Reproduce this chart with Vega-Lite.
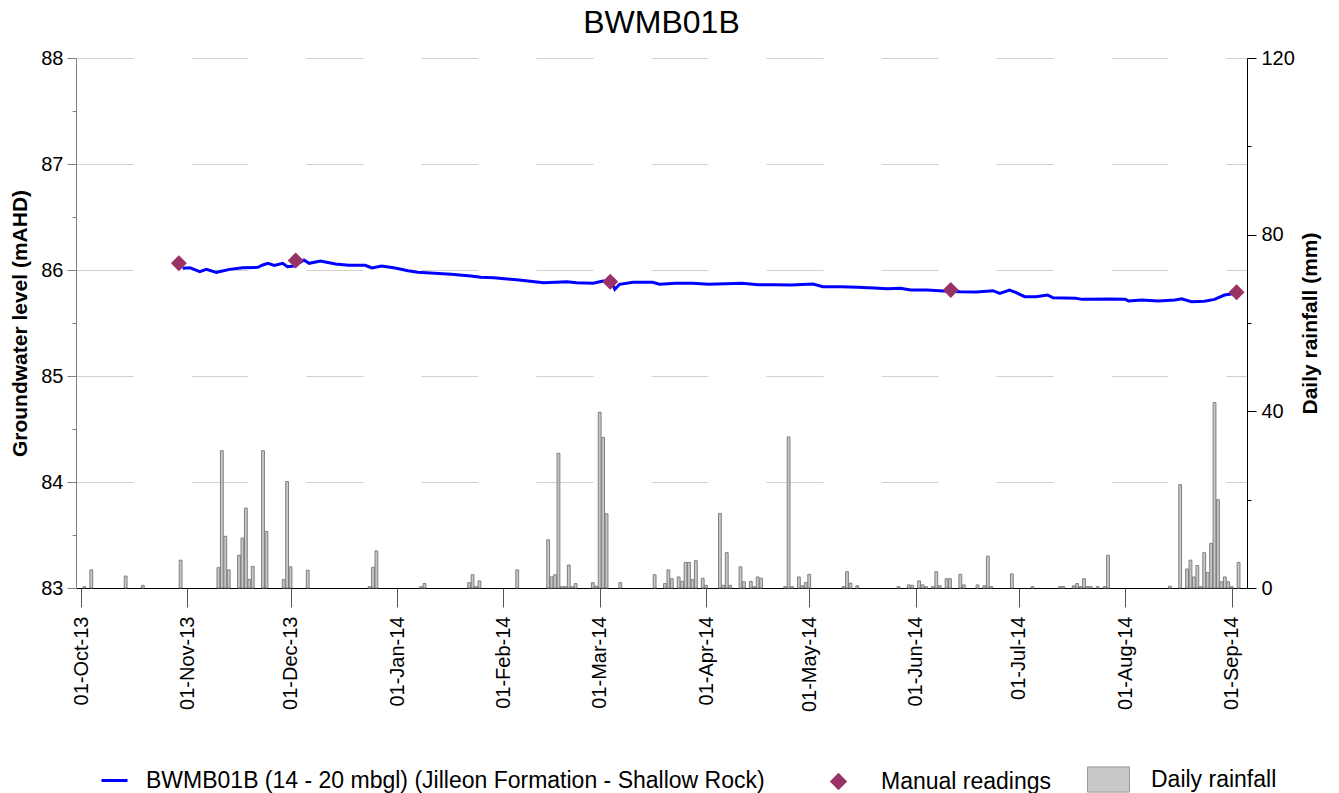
{
  "$schema": "https://vega.github.io/schema/vega-lite/v6.json",
  "width": 1171,
  "height": 530,
  "autosize": {"type": "none"},
  "padding": {"left": 76, "top": 58, "right": 92, "bottom": 205},
  "background": "white",
  "title": {"text": "BWMB01B", "fontSize": 32, "font": "Liberation Sans", "fontWeight": "normal", "anchor": "middle", "baseline": "alphabetic", "offset": -17, "color": "black"},
  "datasets": {
    "rain": [
      {"date": "2013-10-02", "rain": 0.3}, {"date": "2013-10-04", "rain": 4.1}, {"date": "2013-10-14", "rain": 2.7}, {"date": "2013-10-19", "rain": 0.6},
      {"date": "2013-10-30", "rain": 6.3}, {"date": "2013-11-10", "rain": 4.6}, {"date": "2013-11-11", "rain": 31.1}, {"date": "2013-11-12", "rain": 11.7},
      {"date": "2013-11-13", "rain": 4.1}, {"date": "2013-11-16", "rain": 7.4}, {"date": "2013-11-17", "rain": 11.3}, {"date": "2013-11-18", "rain": 18.1},
      {"date": "2013-11-19", "rain": 1.9}, {"date": "2013-11-20", "rain": 4.9}, {"date": "2013-11-23", "rain": 31.1}, {"date": "2013-11-24", "rain": 12.8},
      {"date": "2013-11-29", "rain": 1.9}, {"date": "2013-11-30", "rain": 24.1}, {"date": "2013-12-01", "rain": 4.8}, {"date": "2013-12-06", "rain": 4.0},
      {"date": "2013-12-24", "rain": 0.3}, {"date": "2013-12-25", "rain": 4.7}, {"date": "2013-12-26", "rain": 8.4},
      {"date": "2014-01-08", "rain": 0.3}, {"date": "2014-01-09", "rain": 1.0}, {"date": "2014-01-22", "rain": 1.2}, {"date": "2014-01-23", "rain": 3.0},
      {"date": "2014-01-24", "rain": 0.3}, {"date": "2014-01-25", "rain": 1.6}, {"date": "2014-02-05", "rain": 4.1}, {"date": "2014-02-14", "rain": 10.9},
      {"date": "2014-02-15", "rain": 2.5}, {"date": "2014-02-16", "rain": 3.0}, {"date": "2014-02-17", "rain": 30.5}, {"date": "2014-02-18", "rain": 0.3},
      {"date": "2014-02-19", "rain": 0.3}, {"date": "2014-02-20", "rain": 5.2}, {"date": "2014-02-21", "rain": 0.3}, {"date": "2014-02-22", "rain": 1.0},
      {"date": "2014-02-27", "rain": 1.2}, {"date": "2014-02-28", "rain": 0.4}, {"date": "2014-03-01", "rain": 39.8}, {"date": "2014-03-02", "rain": 34.1},
      {"date": "2014-03-03", "rain": 16.8}, {"date": "2014-03-07", "rain": 1.2}, {"date": "2014-03-17", "rain": 3.0}, {"date": "2014-03-20", "rain": 1.0},
      {"date": "2014-03-21", "rain": 4.1}, {"date": "2014-03-22", "rain": 2.1}, {"date": "2014-03-24", "rain": 2.5}, {"date": "2014-03-25", "rain": 1.5},
      {"date": "2014-03-26", "rain": 5.8}, {"date": "2014-03-27", "rain": 5.8}, {"date": "2014-03-28", "rain": 1.9}, {"date": "2014-03-29", "rain": 6.2},
      {"date": "2014-03-31", "rain": 2.2}, {"date": "2014-04-01", "rain": 0.6}, {"date": "2014-04-05", "rain": 16.9}, {"date": "2014-04-06", "rain": 0.6},
      {"date": "2014-04-07", "rain": 8.0}, {"date": "2014-04-08", "rain": 0.6}, {"date": "2014-04-11", "rain": 4.8}, {"date": "2014-04-12", "rain": 1.4},
      {"date": "2014-04-14", "rain": 1.5}, {"date": "2014-04-15", "rain": 0.3}, {"date": "2014-04-16", "rain": 2.5}, {"date": "2014-04-17", "rain": 2.2},
      {"date": "2014-04-24", "rain": 0.3}, {"date": "2014-04-25", "rain": 34.2}, {"date": "2014-04-26", "rain": 0.3}, {"date": "2014-04-28", "rain": 2.5},
      {"date": "2014-04-29", "rain": 0.5}, {"date": "2014-04-30", "rain": 1.2}, {"date": "2014-05-01", "rain": 3.1}, {"date": "2014-05-11", "rain": 0.3},
      {"date": "2014-05-12", "rain": 3.7}, {"date": "2014-05-13", "rain": 1.1}, {"date": "2014-05-15", "rain": 0.5}, {"date": "2014-05-27", "rain": 0.3},
      {"date": "2014-05-30", "rain": 0.7}, {"date": "2014-05-31", "rain": 0.6}, {"date": "2014-06-02", "rain": 1.6}, {"date": "2014-06-03", "rain": 0.7},
      {"date": "2014-06-04", "rain": 0.3}, {"date": "2014-06-06", "rain": 0.3}, {"date": "2014-06-07", "rain": 3.7}, {"date": "2014-06-08", "rain": 0.5},
      {"date": "2014-06-10", "rain": 2.1}, {"date": "2014-06-11", "rain": 2.1}, {"date": "2014-06-14", "rain": 3.1}, {"date": "2014-06-15", "rain": 0.7},
      {"date": "2014-06-19", "rain": 0.7}, {"date": "2014-06-21", "rain": 0.5}, {"date": "2014-06-22", "rain": 7.2}, {"date": "2014-06-23", "rain": 0.3},
      {"date": "2014-06-29", "rain": 3.2}, {"date": "2014-07-05", "rain": 0.3}, {"date": "2014-07-13", "rain": 0.3}, {"date": "2014-07-14", "rain": 0.3},
      {"date": "2014-07-17", "rain": 0.5}, {"date": "2014-07-18", "rain": 1.0}, {"date": "2014-07-19", "rain": 0.3}, {"date": "2014-07-20", "rain": 2.1},
      {"date": "2014-07-21", "rain": 0.3}, {"date": "2014-07-22", "rain": 0.3}, {"date": "2014-07-24", "rain": 0.3}, {"date": "2014-07-26", "rain": 0.3},
      {"date": "2014-07-27", "rain": 7.4}, {"date": "2014-08-14", "rain": 0.4}, {"date": "2014-08-17", "rain": 23.4}, {"date": "2014-08-19", "rain": 4.3},
      {"date": "2014-08-20", "rain": 6.3}, {"date": "2014-08-21", "rain": 2.5}, {"date": "2014-08-22", "rain": 5.1}, {"date": "2014-08-23", "rain": 0.3},
      {"date": "2014-08-24", "rain": 8.0}, {"date": "2014-08-25", "rain": 3.5}, {"date": "2014-08-26", "rain": 10.1}, {"date": "2014-08-27", "rain": 42.0},
      {"date": "2014-08-28", "rain": 20.0}, {"date": "2014-08-29", "rain": 1.4}, {"date": "2014-08-30", "rain": 2.5}, {"date": "2014-08-31", "rain": 1.4},
      {"date": "2014-09-01", "rain": 0.3}, {"date": "2014-09-03", "rain": 5.8}
    ],
    "gw": [
      {"date": "2013-10-30T14:00:00Z", "level": 86.016}, {"date": "2013-11-01T17:00:00Z", "level": 86.022}, {"date": "2013-11-04T14:00:00Z", "level": 85.984},
      {"date": "2013-11-06T12:00:00Z", "level": 86.006}, {"date": "2013-11-09T10:00:00Z", "level": 85.978}, {"date": "2013-11-13T07:00:00Z", "level": 86.006},
      {"date": "2013-11-17T02:00:00Z", "level": 86.022}, {"date": "2013-11-21T12:00:00Z", "level": 86.025}, {"date": "2013-11-22T22:00:00Z", "level": 86.047},
      {"date": "2013-11-24T10:00:00Z", "level": 86.063}, {"date": "2013-11-26T07:00:00Z", "level": 86.044}, {"date": "2013-11-28T17:00:00Z", "level": 86.063},
      {"date": "2013-11-30T02:00:00Z", "level": 86.031}, {"date": "2013-12-02T00:00:00Z", "level": 86.038}, {"date": "2013-12-04T22:00:00Z", "level": 86.095},
      {"date": "2013-12-06T10:00:00Z", "level": 86.063}, {"date": "2013-12-09T17:00:00Z", "level": 86.085}, {"date": "2013-12-14T02:00:00Z", "level": 86.057},
      {"date": "2013-12-17T22:00:00Z", "level": 86.044}, {"date": "2013-12-22T17:00:00Z", "level": 86.044}, {"date": "2013-12-24T17:00:00Z", "level": 86.019},
      {"date": "2013-12-27T12:00:00Z", "level": 86.038}, {"date": "2013-12-31T10:00:00Z", "level": 86.019}, {"date": "2014-01-04T05:00:00Z", "level": 85.993},
      {"date": "2014-01-07T02:00:00Z", "level": 85.978}, {"date": "2014-01-11T22:00:00Z", "level": 85.969}, {"date": "2014-01-16T19:00:00Z", "level": 85.959},
      {"date": "2014-01-22T12:00:00Z", "level": 85.943}, {"date": "2014-01-25T10:00:00Z", "level": 85.931}, {"date": "2014-01-29T05:00:00Z", "level": 85.927},
      {"date": "2014-02-02T02:00:00Z", "level": 85.915}, {"date": "2014-02-05T12:00:00Z", "level": 85.906}, {"date": "2014-02-12T17:00:00Z", "level": 85.880},
      {"date": "2014-02-19T10:00:00Z", "level": 85.890}, {"date": "2014-02-22T07:00:00Z", "level": 85.880}, {"date": "2014-02-27T02:00:00Z", "level": 85.875},
      {"date": "2014-03-02T00:00:00Z", "level": 85.896}, {"date": "2014-03-04T10:00:00Z", "level": 85.890}, {"date": "2014-03-05T10:00:00Z", "level": 85.818},
      {"date": "2014-03-06T19:00:00Z", "level": 85.865}, {"date": "2014-03-10T17:00:00Z", "level": 85.884}, {"date": "2014-03-16T10:00:00Z", "level": 85.884},
      {"date": "2014-03-18T10:00:00Z", "level": 85.865}, {"date": "2014-03-23T05:00:00Z", "level": 85.875}, {"date": "2014-03-28T00:00:00Z", "level": 85.875},
      {"date": "2014-04-01T19:00:00Z", "level": 85.865}, {"date": "2014-04-11T10:00:00Z", "level": 85.875}, {"date": "2014-04-16T05:00:00Z", "level": 85.862},
      {"date": "2014-04-21T00:00:00Z", "level": 85.862}, {"date": "2014-04-25T19:00:00Z", "level": 85.858}, {"date": "2014-05-02T02:00:00Z", "level": 85.868},
      {"date": "2014-05-05T00:00:00Z", "level": 85.843}, {"date": "2014-05-10T07:00:00Z", "level": 85.843}, {"date": "2014-05-15T02:00:00Z", "level": 85.837},
      {"date": "2014-05-19T22:00:00Z", "level": 85.830}, {"date": "2014-05-23T19:00:00Z", "level": 85.824}, {"date": "2014-05-27T14:00:00Z", "level": 85.827},
      {"date": "2014-05-30T12:00:00Z", "level": 85.811}, {"date": "2014-06-04T07:00:00Z", "level": 85.811}, {"date": "2014-06-09T02:00:00Z", "level": 85.802},
      {"date": "2014-06-13T22:00:00Z", "level": 85.795}, {"date": "2014-06-18T17:00:00Z", "level": 85.792}, {"date": "2014-06-23T12:00:00Z", "level": 85.805},
      {"date": "2014-06-25T12:00:00Z", "level": 85.780}, {"date": "2014-06-28T07:00:00Z", "level": 85.811}, {"date": "2014-06-30T07:00:00Z", "level": 85.786},
      {"date": "2014-07-02T17:00:00Z", "level": 85.748}, {"date": "2014-07-06T00:00:00Z", "level": 85.748}, {"date": "2014-07-09T10:00:00Z", "level": 85.764},
      {"date": "2014-07-10T22:00:00Z", "level": 85.739}, {"date": "2014-07-17T14:00:00Z", "level": 85.733}, {"date": "2014-07-19T12:00:00Z", "level": 85.723},
      {"date": "2014-07-27T05:00:00Z", "level": 85.726}, {"date": "2014-08-01T00:00:00Z", "level": 85.723}, {"date": "2014-08-02T00:00:00Z", "level": 85.708},
      {"date": "2014-08-05T19:00:00Z", "level": 85.717}, {"date": "2014-08-10T14:00:00Z", "level": 85.708}, {"date": "2014-08-15T12:00:00Z", "level": 85.717},
      {"date": "2014-08-17T10:00:00Z", "level": 85.729}, {"date": "2014-08-20T07:00:00Z", "level": 85.701}, {"date": "2014-08-24T02:00:00Z", "level": 85.705},
      {"date": "2014-08-27T00:00:00Z", "level": 85.723}, {"date": "2014-08-29T22:00:00Z", "level": 85.764}, {"date": "2014-08-31T19:00:00Z", "level": 85.774},
      {"date": "2014-09-02T07:00:00Z", "level": 85.786}
    ],
    "manual": [
      {"date": "2013-10-29T12:00:00Z", "level": 86.063},
      {"date": "2013-12-02T12:00:00Z", "level": 86.09},
      {"date": "2014-03-04T02:00:00Z", "level": 85.89},
      {"date": "2014-06-11T05:00:00Z", "level": 85.811},
      {"date": "2014-09-02T10:00:00Z", "level": 85.79}
    ]
  },
  "encoding": {
    "x": {
      "field": "date",
      "type": "temporal",
      "scale": {"type": "utc", "domain": [1380585600000, 1409788800000], "nice": false},
      "axis": {
        "format": "%d-%b-%y",
        "labelAngle": 270,
        "tickCount": {"interval": "month", "step": 1},
        "grid": false,
        "tickSize": 19,
        "tickColor": "#555555",
        "domainColor": "#000000",
        "labelFontSize": 20,
        "labelPadding": 9,
        "labelFlush": false,
        "labelOverlap": false,
        "labelColor": "#000000",
        "title": null
      }
    }
  },
  "layer": [
    {
      "data": {"name": "rain"},
      "mark": {"type": "bar", "size": 2.8, "stroke": "#7f7f7f", "strokeWidth": 1},
      "encoding": {
        "y": {
          "field": "rain",
          "type": "quantitative",
          "scale": {"domain": [0, 120], "nice": false},
          "axis": {
            "orient": "right",
            "values": [0, 20, 40, 60, 80, 100, 120],
            "labelExpr": "datum.value % 40 === 0 ? format(datum.value, 'd') : ''",
            "tickSize": {"condition": {"test": "datum.value % 40 === 0", "value": 9}, "value": 4},
            "grid": false,
            "domainColor": "#000000",
            "tickColor": "#000000",
            "labelFontSize": 20,
            "labelPadding": 5,
            "labelColor": "#000000",
            "labelOverlap": false,
            "title": "Daily rainfall (mm)",
            "titleAngle": 270,
            "titleFontSize": 21,
            "titleFontWeight": "bold",
            "titleColor": "#000000",
            "titlePadding": 26
          }
        },
        "fill": {
          "datum": "Daily rainfall",
          "scale": {"range": ["#c8c8c8"]},
          "legend": {
            "orient": "none", "legendX": 1011, "legendY": 700, "title": null, "padding": 0,
            "symbolType": "M-1,-0.6H1V0.6H-1Z", "symbolSize": 1764, "symbolFillColor": "#c8c8c8",
            "symbolStrokeColor": "#999999", "symbolStrokeWidth": 1, "labelOffset": 21,
            "labelFontSize": 23, "labelLimit": 1000, "labelColor": "#000000"
          }
        }
      }
    },
    {
      "data": {"name": "gw"},
      "mark": {"type": "line", "strokeWidth": 3},
      "encoding": {
        "y": {
          "field": "level",
          "type": "quantitative",
          "scale": {"domain": [83, 88], "nice": false, "zero": false},
          "axis": {
            "orient": "left",
            "values": [83, 83.5, 84, 84.5, 85, 85.5, 86, 86.5, 87, 87.5, 88],
            "labelExpr": "datum.value % 1 === 0 ? format(datum.value, 'd') : ''",
            "tickSize": {"condition": {"test": "datum.value % 1 === 0", "value": 9}, "value": 4},
            "grid": true,
            "gridDash": [57, 58],
            "gridColor": "#d0d0d0",
            "gridOpacity": {"condition": {"test": "datum.value % 1 === 0 && datum.value > 83", "value": 1}, "value": 0},
            "domainColor": "#808080",
            "tickColor": "#808080",
            "labelFontSize": 20,
            "labelPadding": 4,
            "labelColor": "#000000",
            "labelOverlap": false,
            "title": "Groundwater level (mAHD)",
            "titleFontSize": 21,
            "titleFontWeight": "bold",
            "titleColor": "#000000",
            "titlePadding": 10
          }
        },
        "stroke": {
          "datum": "BWMB01B (14 - 20 mbgl) (Jilleon Formation - Shallow Rock)",
          "scale": {"range": ["#0000ff"]},
          "legend": {
            "orient": "none", "legendX": 24, "legendY": 708, "title": null, "padding": 0,
            "symbolType": "stroke", "symbolSize": 676, "symbolStrokeColor": "#0000ff", "symbolStrokeWidth": 3,
            "labelOffset": 17, "labelFontSize": 23, "labelLimit": 1000, "labelColor": "#000000"
          }
        }
      }
    },
    {
      "data": {"name": "manual"},
      "mark": {"type": "point", "shape": "diamond", "filled": true, "size": 256, "fill": "#993366", "opacity": 1, "strokeWidth": 0},
      "encoding": {
        "y": {
          "field": "level",
          "type": "quantitative",
          "scale": {"domain": [83, 88], "nice": false, "zero": false},
          "axis": null
        },
        "shape": {
          "datum": "Manual readings",
          "scale": {"range": ["diamond"]},
          "legend": {
            "orient": "none", "legendX": 751, "legendY": 712, "title": null, "padding": 0,
            "symbolType": "diamond", "symbolSize": 300, "symbolFillColor": "#993366", "symbolStrokeWidth": 0,
            "labelOffset": 31, "labelFontSize": 23, "labelLimit": 1000, "labelColor": "#000000"
          }
        }
      }
    }
  ],
  "resolve": {"scale": {"y": "independent"}},
  "config": {
    "view": {"stroke": null},
    "font": "Liberation Sans",
    "axis": {"labelFont": "Liberation Sans", "titleFont": "Liberation Sans"},
    "legend": {"labelFont": "Liberation Sans"}
  }
}
